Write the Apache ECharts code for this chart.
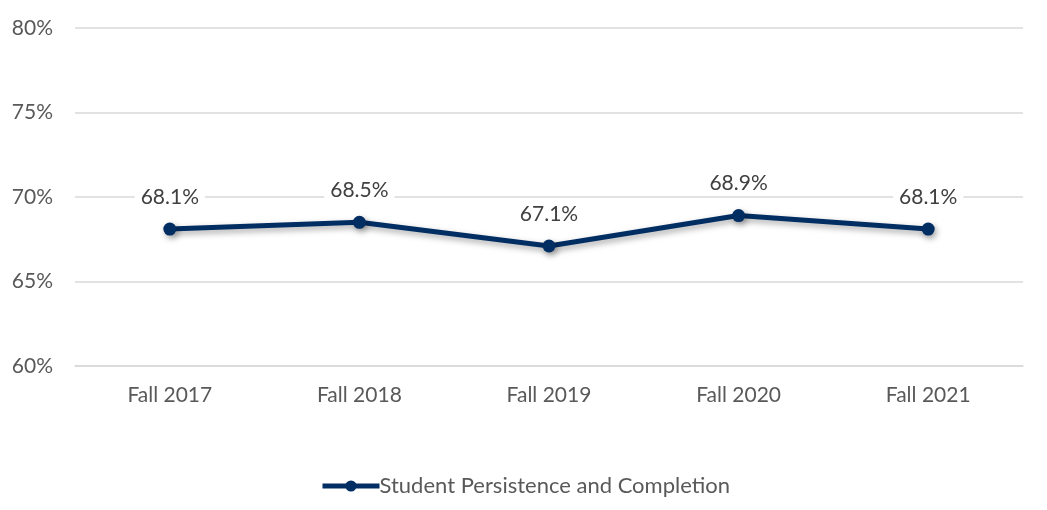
<!DOCTYPE html>
<html><head><meta charset="utf-8">
<script src="https://cdn.jsdelivr.net/npm/echarts@6/dist/echarts.min.js"></script>
<style>html,body{margin:0;padding:0;background:#fff}#c{width:1047px;height:510px}</style>
</head><body><div id="c"></div>
<script>
const categories = ["Fall 2017", "Fall 2018", "Fall 2019", "Fall 2020", "Fall 2021"];
const seriesName = "Student Persistence and Completion";
const values = [68.1, 68.5, 67.1, 68.9, 68.1];
const yMin = 60, yMax = 80, yStep = 5;

const FONT = "Lato";
const FS = 21;
const chart = echarts.init(document.getElementById('c'), null, {renderer: 'canvas'});
chart.setOption({
  animation: false,
  backgroundColor: '#ffffff',
  grid: {left: 75, right: 24, top: 28, bottom: 144, containLabel: false},
  legend: {
    top: 470, left: 315,
    itemWidth: 57, itemHeight: 14, itemGap: 10,
    lineStyle: {width: 5},
    textStyle: {color: '#595959', fontSize: 22, fontFamily: FONT, padding: [0, 0, 0, -5]},
    data: [{name: seriesName}]
  },
  xAxis: {
    type: 'category', data: categories, boundaryGap: true,
    axisLine: {show: true, lineStyle: {color: '#d9d9d9', width: 1.5}},
    axisTick: {show: false},
    axisLabel: {color: '#595959', fontSize: FS, fontFamily: FONT, margin: 19}
  },
  yAxis: {
    type: 'value', min: yMin, max: yMax, interval: yStep,
    axisLine: {show: false}, axisTick: {show: false},
    splitLine: {lineStyle: {color: '#d9d9d9', width: 1.5}},
    axisLabel: {color: '#595959', fontSize: FS, fontFamily: FONT, margin: 22,
      formatter: v => v + '%'}
  },
  series: [{
    name: seriesName, type: 'line', data: values,
    symbol: 'circle', symbolSize: 13,
    itemStyle: {color: '#002D62', shadowColor: 'rgba(0,0,0,0.35)', shadowBlur: 6, shadowOffsetX: 2, shadowOffsetY: 3},
    lineStyle: {color: '#002D62', width: 5,
      shadowColor: 'rgba(0,0,0,0.35)', shadowBlur: 6, shadowOffsetX: 2, shadowOffsetY: 3},
    label: {show: true, position: 'top', distance: 13,
      formatter: p => p.value.toFixed(1) + '%',
      color: '#404040', fontSize: FS, fontFamily: FONT,
      backgroundColor: '#ffffff', padding: [2, 6]}
  }]
});
</script></body></html>
